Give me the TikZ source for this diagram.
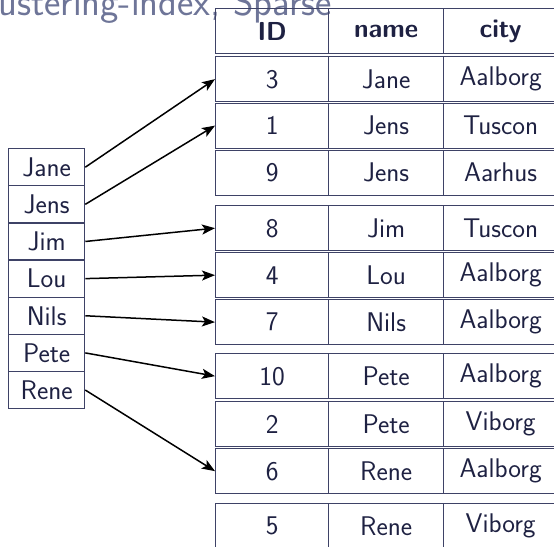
\documentclass[tikz,border=0pt]{standalone}
\usetikzlibrary{arrows.meta}
\definecolor{titlecol}{HTML}{6E7598}
\definecolor{ink}{HTML}{1E2142}
\definecolor{rulecol}{HTML}{3E4266}
\begin{document}
\begin{tikzpicture}[x=1pt,y=-1pt,
  cellbox/.style={draw=rulecol, line width=1.3pt, minimum height=45pt, inner sep=0pt,
    anchor=north west, text=ink, font=\sffamily\fontsize{27}{32}\selectfont},
  headbox/.style={cellbox, font=\sffamily\bfseries\fontsize{26}{31}\selectfont},
  idxbox/.style={draw=rulecol, line width=1.3pt, minimum width=76pt, minimum height=37.1pt,
    inner sep=0pt, anchor=north west, text=ink, font=\sffamily\fontsize{27}{32}\selectfont},
  conn/.style={draw=black, line width=1.5pt, -{Stealth[length=13pt,width=10pt,inset=3pt]}}]
\useasboundingbox (0,0) rectangle (554,546);
\clip (0,0) rectangle (554,546);

% frame title, partly outside the page
\node[anchor=base west, inner sep=0pt, text=titlecol,
      font=\sffamily\fontsize{39}{44}\selectfont] (title) at (-34.2,15) {Clustering-index, Sparse};

% table header
\node[headbox, minimum width=113pt] (hid)   at (215,8) {ID};
\node[headbox, minimum width=115pt] (hname) at (328,8) {name};
\node[headbox, minimum width=114pt] (hcity) at (443,8) {city};

% data records, grouped three per block
\foreach \k/\top/\id/\nm/\ct in {
  1/56/3/Jane/Aalborg,
  2/102.5/1/Jens/Tuscon,
  3/149.5/9/Jens/Aarhus,
  4/205/8/Jim/Tuscon,
  5/252/4/Lou/Aalborg,
  6/299/7/Nils/Aalborg,
  7/353/10/Pete/Aalborg,
  8/401/2/Pete/Viborg,
  9/448/6/Rene/Aalborg,
  10/503/5/Rene/Viborg}{
  \node[cellbox, minimum width=113pt] (r\k id)   at (215,\top) {\id};
  \node[cellbox, minimum width=115pt] (r\k name) at (328,\top) {\nm};
  \node[cellbox, minimum width=114pt] (r\k city) at (443,\top) {\ct};
}

% sparse index
\foreach \i/\nm in {0/Jane,1/Jens,2/Jim,3/Lou,4/Nils,5/Pete,6/Rene}{
  \node[idxbox] (ix\nm) at ({8},{148+37.14*\i}) {\nm};
}

% index pointers
\draw[conn] (ixJane.east) -- (r1id.west);
\draw[conn] (ixJens.east) -- (r2id.west);
\draw[conn] (ixJim.east)  -- (r4id.west);
\draw[conn] (ixLou.east)  -- (r5id.west);
\draw[conn] (ixNils.east) -- (r6id.west);
\draw[conn] (ixPete.east) -- (r7id.west);
\draw[conn] (ixRene.east) -- (r9id.west);
\end{tikzpicture}
\end{document}
